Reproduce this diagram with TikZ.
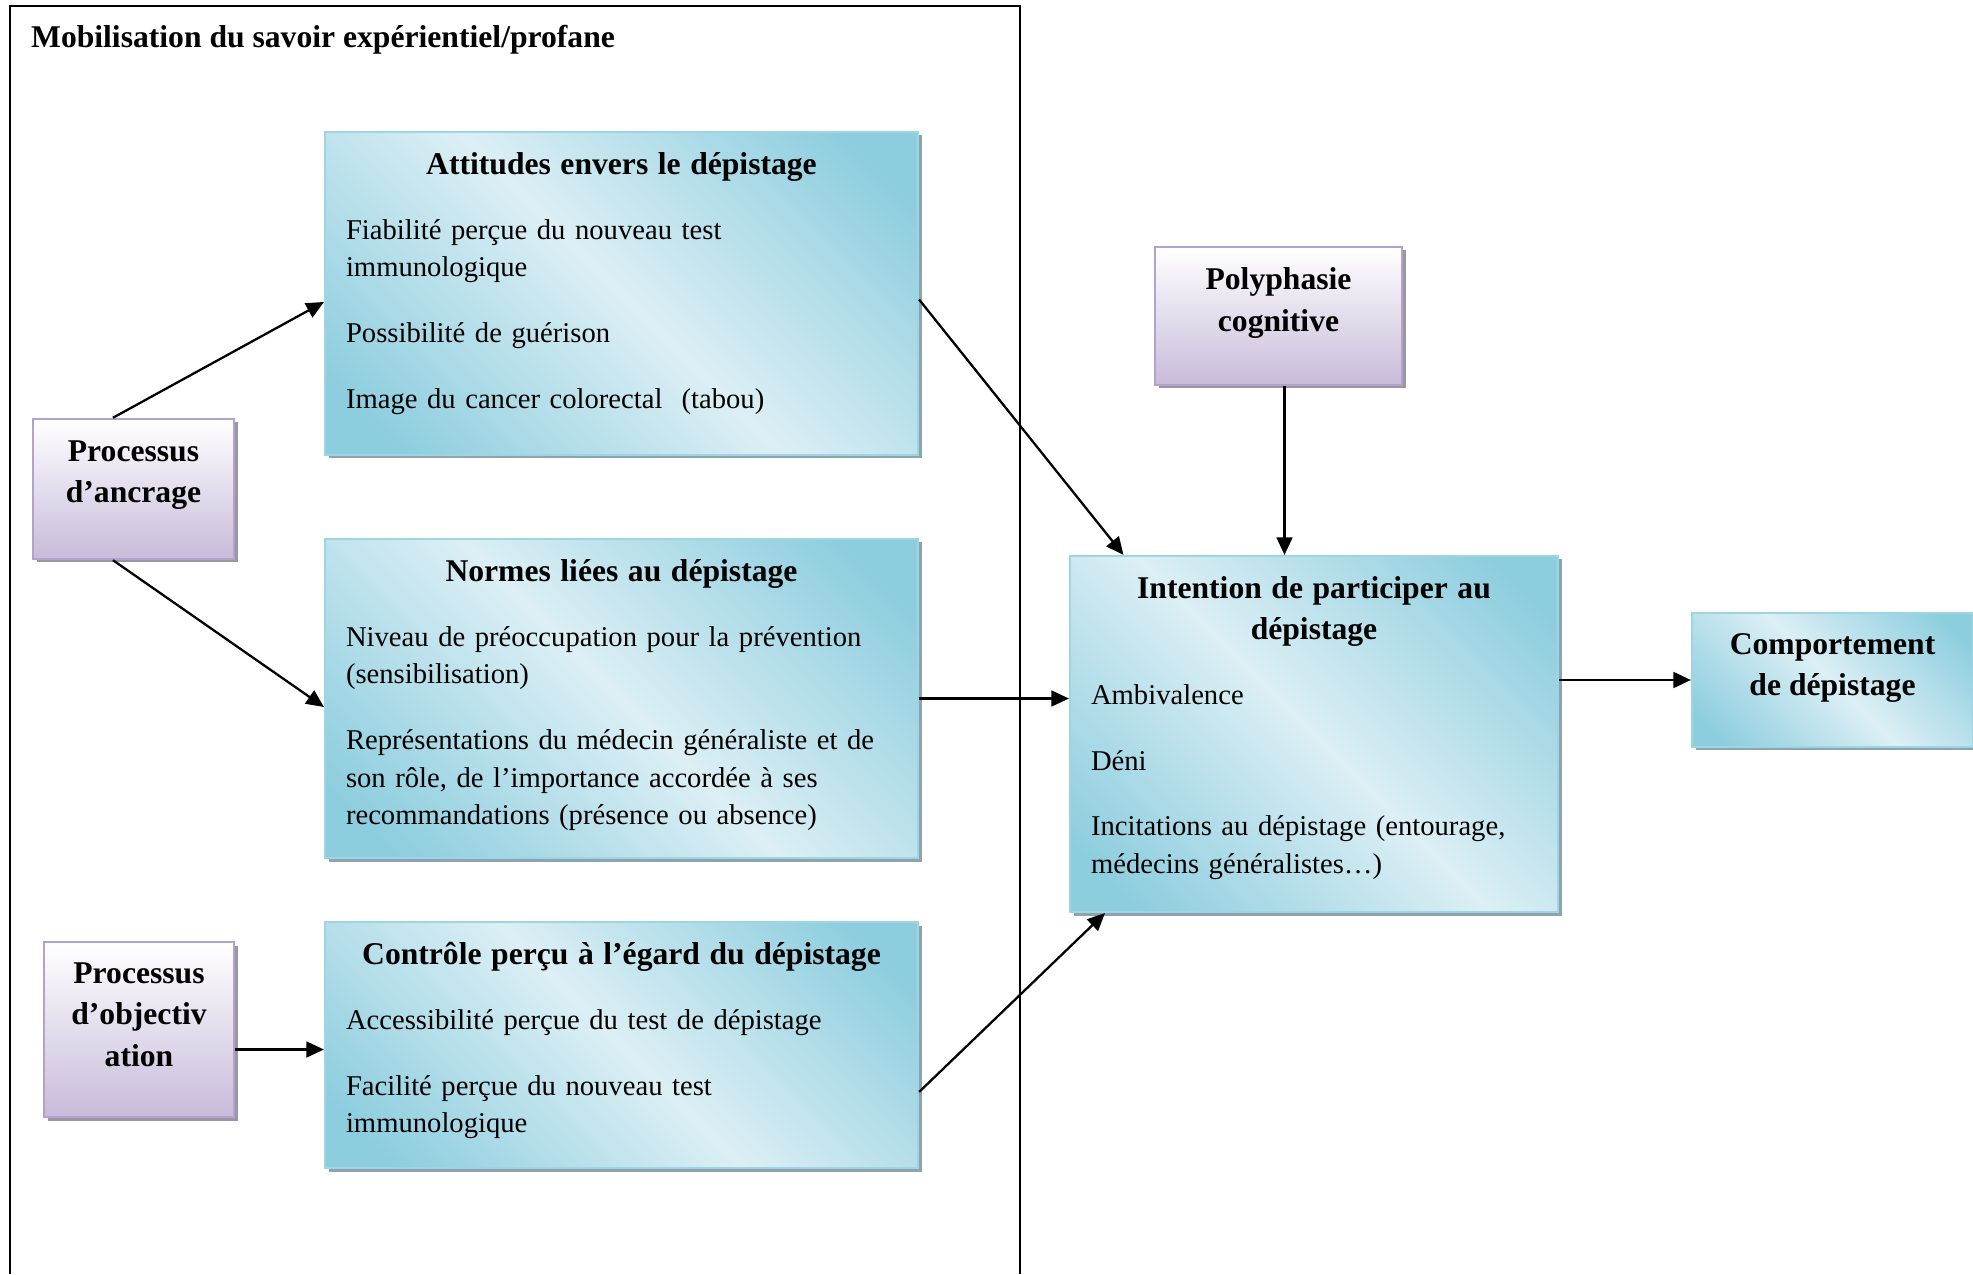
\documentclass[tikz,border=0pt]{standalone}
\usepackage{fontspec}
\setmainfont{Liberation Serif}
\usetikzlibrary{positioning, shadows, arrows.meta}

\setlength{\parindent}{0pt}

\definecolor{bluedark}{HTML}{8CCDDE}
\definecolor{bluelight}{HTML}{DCEFF5}
\definecolor{blueline}{HTML}{9DD5E3}
\definecolor{blueshadow}{HTML}{8DA4AE}
\definecolor{lilacbot}{HTML}{C8BBDA}
\definecolor{lilacline}{HTML}{B3A2CB}
\definecolor{lilacshadow}{HTML}{9C96A4}

\pgfdeclarehorizontalshading{bluediag}{100bp}{color(0bp)=(bluedark); color(20bp)=(bluedark); color(50bp)=(bluelight); color(80bp)=(bluedark); color(100bp)=(bluedark)}

\newcommand{\boxhead}[1]{{\centering\bfseries\fontsize{18}{23.6}\selectfont #1\par}\vspace{15.6pt}}
\newcommand{\itemgap}{\par\vspace{16pt}}

\tikzset{
  bluebox/.style={draw=blueline, line width=1.2pt, shade, shading=bluediag, shading angle=45,
    drop shadow={shadow xshift=0.07cm, shadow yshift=-0.07cm, fill=blueshadow, opacity=1}},
  lilacbox/.style={draw=lilacline, line width=1.4pt, top color=white, bottom color=lilacbot,
    drop shadow={shadow xshift=0.07cm, shadow yshift=-0.07cm, fill=lilacshadow, opacity=1}},
  bodytext/.style={anchor=north, inner sep=0pt, align=left, font=\fontsize{16.3}{21.4}\selectfont},
  boldtext/.style={anchor=north, inner sep=0pt, align=center, font=\bfseries\fontsize{18}{23.6}\selectfont}
}

\begin{document}
\begin{tikzpicture}[>={Triangle[length=10pt, width=9pt]}, line width=1.3pt]

            \useasboundingbox (0,0) rectangle (39.46,25.48);

            % Frame of the experiential knowledge
            \draw[line width=1pt] (0.2,0) -- (0.2,25.36) -- (20.4,25.36) -- (20.4,0);
            \node[anchor=west, inner sep=0pt, font=\bfseries\fontsize{18}{23.6}\selectfont] (title) at (0.60,24.68) {Mobilisation du savoir expérientiel/profane};

            % Draw the three determinants
            \node[bluebox, minimum width=11.86cm, minimum height=6.46cm] (att) at (12.43,19.61) {};
            \node[bodytext, text width=11.02cm, below=0.40cm of att.north] (atttext) {\boxhead{Attitudes envers le dépistage}Fiabilité perçue du nouveau test\\immunologique\itemgap Possibilité de guérison\itemgap Image du cancer colorectal\ \ (tabou)};

            \node[bluebox, minimum width=11.86cm, minimum height=6.38cm] (nor) at (12.43,11.51) {};
            \node[bodytext, text width=11.02cm, below=0.40cm of nor.north] (nortext) {\boxhead{Normes liées au dépistage}Niveau de préoccupation pour la prévention\\(sensibilisation)\itemgap Représentations du médecin généraliste et de\\son rôle, de l’importance accordée à ses\\recommandations (présence ou absence)};

            \node[bluebox, minimum width=11.86cm, minimum height=4.92cm] (ctl) at (12.43,4.58) {};
            \node[bodytext, text width=11.02cm, below=0.40cm of ctl.north] (ctltext) {\boxhead{Contrôle perçu à l’égard du dépistage}Accessibilité perçue du test de dépistage\itemgap Facilité perçue du nouveau test\\immunologique};

            % Draw the two processes
            \node[lilacbox, minimum width=4.02cm, minimum height=2.80cm] (anc) at (2.67,15.70) {};
            \node[boldtext, below=0.43cm of anc.north] (anctext) {Processus\\d’ancrage};

            \node[lilacbox, minimum width=3.80cm, minimum height=3.50cm] (obj) at (2.78,4.89) {};
            \node[boldtext, below=0.41cm of obj.north] (objtext) {Processus\\d’objectiv\\ation};

            % Draw the intention and the behaviour
            \node[lilacbox, minimum width=4.94cm, minimum height=2.76cm] (pol) at (25.57,19.16) {};
            \node[boldtext, below=0.42cm of pol.north] (poltext) {Polyphasie\\cognitive};

            \node[bluebox, minimum width=9.76cm, minimum height=7.12cm] (int) at (26.28,10.80) {};
            \node[bodytext, text width=8.92cm, below=0.40cm of int.north] (inttext) {\boxhead{Intention de participer au\\dépistage}Ambivalence\itemgap Déni\itemgap Incitations au dépistage (entourage,\\médecins généralistes…)};

            \node[bluebox, minimum width=5.62cm, minimum height=2.68cm] (cmp) at (36.65,11.88) {};
            \node[boldtext, below=0.40cm of cmp.north] (cmptext) {Comportement\\de dépistage};

            % Arrows from the processes
            \draw[->] ([xshift=-0.41cm]anc.north) -- ([yshift=-0.17cm]att.west);
            \draw[->] ([xshift=-0.41cm]anc.south) -- ([yshift=-0.17cm]nor.west);
            \draw[->] ([yshift=-0.4cm]obj.east) -- ([yshift=-0.09cm]ctl.west);

            % Arrows to the intention
            \draw[->] ([yshift=-0.12cm]att.east) -- ([xshift=-3.81cm]int.north);
            \draw[->] (nor.east) -- (nor.east -| int.west);
            \draw[->] ([yshift=-0.94cm]ctl.east) -- ([xshift=-4.18cm]int.south);
            \draw[->] ([xshift=0.12cm]pol.south) -- ([xshift=-0.59cm]int.north);

            % Arrow to the behaviour
            \draw[->] (cmp.west -| int.east) -- (cmp.west);

        \end{tikzpicture}
\end{document}
